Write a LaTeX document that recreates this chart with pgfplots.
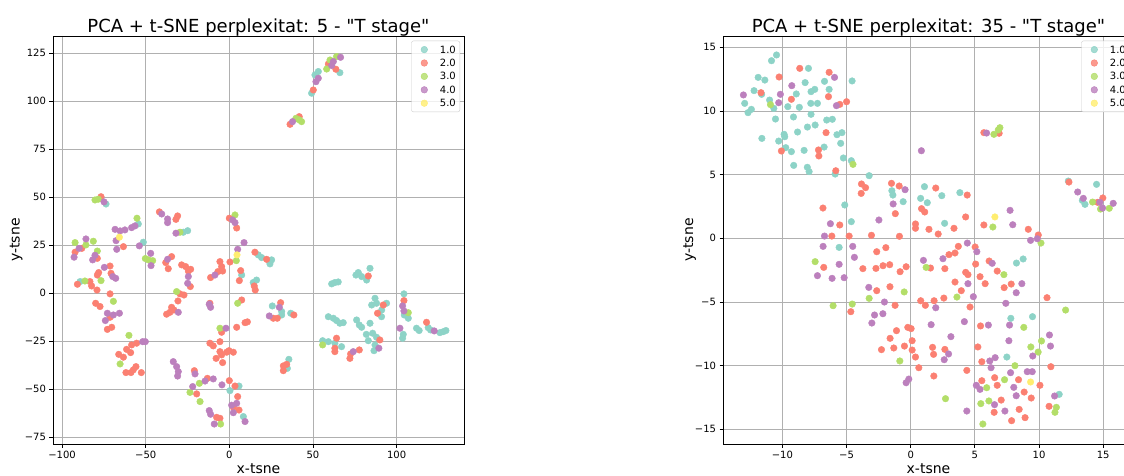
\documentclass[border=0pt]{standalone}
\usepackage{fontspec}
\setmainfont{DejaVu Sans}[Ligatures=TeXOff]
\usepackage{pgfplots}
\usepackage{pgfplotstable}
\pgfplotsset{compat=1.18}

\definecolor{c1}{HTML}{8DD3C7}
\definecolor{c2}{HTML}{FB8072}
\definecolor{c3}{HTML}{B3DE69}
\definecolor{c4}{HTML}{BC80BD}
\definecolor{c5}{HTML}{FFED6F}
\definecolor{gridc}{HTML}{B0B0B0}
\definecolor{legc}{HTML}{CCCCCC}

% ---- perplexity 5 ----
\pgfplotstableread{
x y
53.2 115.5
51.2 113.7
66.1 114.9
49.2 104.2
-73.7 46.5
-54.4 36.1
-51.4 26.6
-89.2 6.1
-27.5 31.8
-24.9 32.6
7.4 9.5
0.4 -50.7
5.8 -48.3
8.4 -64.2
17.3 20.0
19.3 18.6
25.3 17.4
24.3 15.3
14.3 5.6
16.3 6.9
25.7 -6.6
31.3 -9.5
31.3 -11.3
36.7 -10.4
35.6 -34.4
34.7 -39.1
61.2 4.9
63.1 5.6
65.1 5.9
75.7 9.5
77.1 10.8
79.1 8.7
82.1 6.9
84.1 13.0
59.2 -12.2
62.2 -13.0
64.1 -14.2
66.1 -15.6
68.1 -15.3
76.1 -13.9
77.7 -16.5
79.1 -17.7
84.1 -15.6
87.1 -2.6
85.1 -6.1
88.0 -5.2
94.0 -5.2
91.1 -8.7
91.0 -12.2
81.9 -21.4
85.7 -20.8
88.0 -22.9
83.1 -24.7
87.1 -26.9
86.5 -29.9
55.8 -24.7
59.2 -25.2
63.1 -26.0
67.1 -27.8
104.4 -0.3
104.6 -11.3
107.0 -13.0
104.0 -21.4
103.6 -23.4
111.9 -18.2
113.5 -19.4
118.9 -17.9
120.3 -19.1
125.9 -20.5
127.9 -20.0
129.5 -19.4
}\Lone
\pgfplotstableread{
x y
59.2 119.4
63.7 116.7
50.2 105.9
36.3 88.0
41.8 92.0
-76.7 50.3
-63.3 24.3
-88.2 23.4
-92.2 21.4
-78.9 18.2
-78.1 10.8
-78.9 9.5
-71.3 14.2
-70.7 10.4
-90.8 4.7
-83.3 6.1
-82.3 3.8
-79.1 1.7
-71.3 -0.3
-79.9 -5.2
-77.3 -6.9
-71.3 -12.5
-72.9 -18.8
-70.3 -17.7
-55.4 -26.0
-58.4 -26.9
-61.4 -29.2
-59.0 -30.9
-66.1 -31.8
-63.3 -33.3
-61.8 -41.3
-58.8 -41.3
-55.8 -38.2
-57.4 -39.9
-52.6 -41.3
-41.8 42.4
-30.9 40.3
-31.9 38.5
-34.5 19.1
-38.0 16.0
-36.5 12.8
-28.5 14.8
-26.1 13.9
-23.1 12.5
-24.5 11.6
-23.3 3.5
-29.5 -0.3
-27.1 -0.9
-30.7 -4.0
-34.5 -7.3
-37.5 -10.9
-35.5 -9.9
-33.1 -8.7
-11.6 -5.2
-11.2 8.2
-6.8 11.3
-4.6 13.9
-5.6 16.5
-4.0 11.6
-4.6 -20.3
-11.6 -26.0
-9.6 -27.4
-5.6 -25.2
-5.6 -30.4
-7.9 -33.9
-4.6 -32.1
-1.6 -30.7
-0.2 -29.9
2.4 -30.7
-4.0 -36.1
-20.9 -40.3
-19.5 -52.4
-13.1 -44.3
0.0 -45.5
3.4 -48.3
5.0 -53.8
2.4 -59.4
5.8 -60.8
-7.6 -64.6
-5.6 -65.1
0.0 39.1
4.4 34.0
0.4 16.3
6.8 11.8
6.0 6.6
7.4 -3.5
4.4 -17.7
9.4 -15.3
10.8 -14.9
15.3 21.4
22.3 17.7
14.9 3.8
15.5 1.7
26.3 -13.0
28.7 -13.0
30.7 -4.9
38.6 -11.3
34.3 -37.0
32.3 -37.8
32.3 -40.3
83.1 9.0
92.0 -6.1
88.6 -10.4
90.0 -24.3
64.1 -23.4
63.1 -28.6
63.1 -30.4
72.5 -31.6
77.7 -29.5
72.1 -33.9
104.4 -3.8
117.9 -15.1
}\Ltwo
\pgfplotstableread{
x y
64.1 123.3
60.2 121.5
58.2 116.8
39.8 91.1
43.2 89.4
41.8 90.3
-80.3 48.6
-78.3 49.0
-55.2 39.1
-92.2 26.4
-81.3 27.1
-85.7 25.2
-78.9 22.0
-86.3 6.4
-76.7 6.6
-69.3 -4.2
-50.2 18.1
-48.4 17.4
-45.8 17.0
-60.0 -21.9
-65.3 -36.8
-29.5 31.8
-31.5 0.9
-5.6 -18.2
-23.5 -51.6
-17.9 -46.9
-17.5 -56.4
-5.2 -68.1
3.4 40.8
4.2 17.0
5.0 -5.2
55.8 -26.9
107.0 -10.1
}\Lthree
\pgfplotstableread{
x y
66.5 122.9
62.2 120.7
61.2 118.6
53.2 112.0
51.8 110.2
37.8 89.4
-74.9 47.6
-58.4 34.2
-56.4 35.1
-62.4 33.0
-68.3 33.3
-65.3 32.5
-67.7 27.4
-67.3 22.9
-53.8 24.7
-85.7 28.3
-89.8 23.4
-92.8 18.8
-80.3 19.8
-81.7 17.4
-74.7 13.5
-69.7 8.7
-67.9 7.8
-72.9 -10.4
-69.3 -11.3
-65.7 -10.4
-74.1 -14.2
-47.0 20.8
-46.8 14.4
-51.8 -25.2
-50.2 -25.2
-40.4 41.3
-36.9 38.7
-36.9 36.8
-31.9 31.3
-36.9 17.7
-24.5 8.7
-24.9 5.2
-30.5 -9.9
-12.0 -5.7
-11.2 -7.3
-8.6 9.5
-2.0 -18.2
-33.5 -35.6
-31.5 -38.2
-30.5 -40.8
-30.9 -43.1
-20.5 -42.0
-21.9 -48.6
-14.5 -45.7
-9.6 -44.6
-4.4 -47.7
4.4 -57.3
1.4 -58.3
2.4 -62.2
9.4 -66.8
-12.0 -61.1
-11.2 -63.0
-9.0 -68.1
2.0 38.2
3.4 36.8
8.8 26.4
5.0 22.9
23.9 -11.8
29.9 -7.3
89.4 -28.6
74.1 -30.4
103.6 -6.6
104.4 -9.2
102.0 -18.2
122.5 -19.6
}\Lfour
\pgfplotstableread{
x y
-65.7 29.2
4.6 20.0
}\Lfive

% ---- perplexity 35 ----
\pgfplotstableread{
x y
-10.46 14.40
-10.85 13.95
-11.89 12.64
-11.37 12.43
-7.97 13.35
-4.57 12.36
-6.72 12.33
-8.23 12.23
-6.36 11.70
-7.48 11.70
-7.77 11.52
-8.92 11.34
-12.21 11.60
-11.62 11.31
-11.00 10.86
-12.94 10.60
-12.42 10.13
-12.68 9.87
-10.67 10.21
-9.58 10.34
-8.68 10.29
-7.79 10.60
-7.27 10.60
-9.14 9.53
-7.77 9.74
-10.54 9.37
-6.55 9.29
-6.11 9.35
-7.45 8.90
-8.05 8.74
-5.75 8.14
-5.36 8.30
-8.82 8.35
-9.87 8.17
-9.82 7.98
-11.60 7.85
-10.29 7.64
-5.46 7.46
-9.74 7.12
-6.75 7.17
-8.31 6.91
-9.30 6.81
-5.25 6.31
-4.63 6.10
-9.12 5.73
-8.06 5.58
-7.92 5.24
-5.89 5.05
-3.24 4.92
-1.39 3.40
-1.47 3.74
-0.59 2.88
1.07 4.06
2.42 3.35
3.83 3.59
0.77 3.14
1.29 2.80
-5.14 2.62
-4.63 1.31
2.64 1.18
-5.58 -0.71
8.24 -1.94
8.76 -1.62
7.80 -6.28
9.49 -6.15
7.49 -9.32
11.57 -12.25
12.28 4.50
14.48 4.24
13.37 2.98
13.58 2.67
}\Rone
\pgfplotstableread{
x y
-10.26 12.67
-8.65 13.35
-6.36 13.04
-11.67 11.44
-6.41 11.13
-9.30 10.92
-5.53 10.52
-5.00 10.73
-6.60 8.30
-10.08 6.86
-7.19 6.94
-7.16 6.47
-5.84 5.31
-3.84 4.27
-3.52 3.98
-3.86 3.53
-1.50 4.32
-0.90 4.11
1.95 3.95
4.40 3.40
0.84 2.33
1.09 2.07
-1.20 1.94
-6.84 2.38
-5.53 1.05
0.37 1.13
0.37 0.79
1.42 0.71
2.14 0.34
3.37 0.79
4.28 1.68
-6.15 0.18
-4.80 0.18
-3.06 0.24
-0.88 0.16
-1.94 -0.73
-2.65 -1.05
-6.78 -2.28
-3.73 -2.38
-2.71 -2.36
-2.16 -2.15
-1.64 -2.07
-0.36 -2.23
-0.83 -2.62
-1.62 -3.80
-2.65 -4.11
-4.67 -5.76
-1.22 -5.26
-1.11 -7.25
-1.61 -7.85
-1.32 -8.61
-2.28 -8.74
-0.23 -6.99
0.03 -7.09
0.11 -8.04
-0.49 -8.46
0.11 -8.77
0.37 -9.32
0.63 -10.16
1.54 -2.33
0.78 -4.90
1.14 -5.26
1.82 -4.90
1.70 -8.56
1.78 -9.11
1.80 -10.81
2.58 -4.69
2.66 -2.38
2.98 -1.28
3.45 -1.15
3.71 -0.63
3.94 -4.11
3.45 -3.43
4.28 -2.67
4.46 -2.85
4.62 -5.39
5.40 -3.01
5.06 -2.02
5.02 -0.68
5.70 1.05
6.11 -1.78
5.80 -3.56
6.74 -2.57
7.28 -3.87
7.83 -3.59
9.16 0.71
9.94 0.26
10.62 -4.66
5.44 -6.88
2.66 -8.72
5.23 -8.53
5.54 -9.69
4.37 -10.37
10.92 -10.08
6.54 -10.94
8.40 -11.10
5.54 -11.18
10.07 -11.54
6.74 -11.54
8.84 -12.07
9.39 -12.54
7.05 -12.70
6.50 -13.66
8.45 -13.43
8.91 -14.08
7.86 -14.32
10.78 -13.19
5.70 8.30
6.89 8.25
12.33 4.42
14.56 2.83
14.97 3.17
}\Rtwo
\pgfplotstableread{
x y
-10.93 10.50
-4.50 5.81
-7.45 -1.83
-3.24 -4.71
-0.51 -4.21
-6.05 -5.29
-4.56 -5.16
-0.85 -9.63
1.20 -2.28
3.60 -4.61
6.40 0.89
7.26 -2.85
10.15 -0.37
12.07 -5.63
8.81 -6.99
10.19 -8.06
9.36 -8.53
9.93 -8.93
8.12 -10.00
7.31 -11.10
5.92 -11.73
2.71 -12.59
6.09 -12.77
5.46 -12.98
5.62 -14.58
11.35 -13.27
11.24 -13.66
6.48 8.17
6.82 8.51
6.95 8.69
14.17 2.85
14.79 2.30
15.47 2.36
}\Rthree
\pgfplotstableread{
x y
-5.94 12.64
-9.27 11.99
-13.04 11.26
-10.16 11.31
-10.29 10.65
-5.79 10.42
-0.44 3.82
-1.37 2.70
-2.48 1.44
-6.26 1.15
-6.72 0.18
-6.83 -0.63
-4.52 -0.63
-4.39 -1.49
-5.58 -2.04
-7.27 -2.93
-6.13 -3.14
-5.19 -3.09
-3.27 -3.85
-2.05 -5.00
-2.82 -6.02
-2.17 -5.92
-3.03 -6.65
-0.15 -11.05
-0.36 -11.34
0.99 -1.73
1.95 -5.45
1.59 -6.78
2.51 -1.60
4.41 -0.37
4.46 -3.56
4.88 -4.58
5.15 -1.05
6.35 -1.96
7.41 -5.10
8.22 -4.27
8.66 -3.56
7.74 2.20
7.95 1.07
9.34 -0.16
9.86 -0.03
7.70 -6.81
6.05 -6.81
4.18 -6.54
3.13 -7.72
2.95 -9.08
2.61 -9.53
7.65 -8.04
10.81 -7.59
10.89 -8.46
9.51 -9.24
6.16 -9.63
6.58 -9.37
6.26 -10.16
7.78 -10.55
9.08 -10.47
9.47 -10.47
5.11 -11.54
5.40 -11.86
8.03 -11.70
8.22 -12.36
6.53 -13.06
4.37 -13.56
7.34 -13.56
11.21 -12.38
0.83 6.88
5.91 8.27
13.01 3.64
13.45 3.14
14.74 2.83
14.95 2.38
15.78 2.75
}\Rfour
\pgfplotstableread{
x y
6.56 1.68
9.34 -11.28
}\Rfive

\pgfplotsset{
  dot/.style={only marks, mark=*, mark size=3.3pt, color=#1,
    mark options={draw=none, fill=#1},
    legend image code/.code={\path (0pt,0pt) (24pt,0pt); \fill[#1] (12.6pt,0pt) circle (3.3pt);}},
  tsne/.style={
    scale only axis, width=411pt, height=408pt,
    axis line style={black, line width=0.8pt},
    grid=major, grid style={gridc, line width=0.8pt},
    tick align=outside, major tick length=3.5pt,
    tick style={black, line width=0.8pt},
    xtick pos=bottom, ytick pos=left,
    ticklabel style={font=\fontsize{10}{12}\selectfont},
    /pgf/number format/assume math mode=true,
    every axis title/.style={at={(axis description cs:0.5,1)}, anchor=base, yshift=4pt,
      font=\fontsize{18}{21}\selectfont},
    every axis x label/.style={at={(axis description cs:0.5,0)}, anchor=base, yshift=-29.5pt,
      font=\fontsize{14}{16}\selectfont},
    xlabel={x-tsne}, ylabel={y-tsne},
    legend cell align=left,
    legend style={at={(axis description cs:1,1)}, anchor=north east, xshift=-4pt, yshift=-4.7pt,
      draw=legc, fill=white, fill opacity=0.8, text opacity=1, rounded corners=2pt,
      font=\fontsize{10}{12}\selectfont, inner xsep=0pt, inner ysep=2pt,
      column sep=0pt, row sep=0pt,
      nodes={inner xsep=4pt, inner ysep=2.2pt, text height=8pt, text depth=1pt}},
  },
}

\begin{document}
\begin{tikzpicture}
\begin{axis}[tsne,
    at={(53pt,31pt)}, anchor=south west,
    title={PCA + t-SNE perplexitat: 5 - "T stage"},
    every axis y label/.style={at={(axis description cs:-0.0815,0.5)}, rotate=90, anchor=base,
      font=\fontsize{14}{16}\selectfont},
    xmin=-105.4, xmax=140.3, ymin=-78.5, ymax=134,
    xtick={-100,-50,0,50,100},
    xticklabels={−100,−50,0,50,100},
    ytick={-75,-50,-25,0,25,50,75,100,125},
    yticklabels={−75,−50,−25,0,25,50,75,100,125},
]
\addplot[dot=c1] table {\Lone};
\addlegendentry{1.0}
\addplot[dot=c2] table {\Ltwo};
\addlegendentry{2.0}
\addplot[dot=c3] table {\Lthree};
\addlegendentry{3.0}
\addplot[dot=c4] table {\Lfour};
\addlegendentry{4.0}
\addplot[dot=c5] table {\Lfive};
\addlegendentry{5.0}
\end{axis}

\begin{axis}[tsne,
    at={(723pt,31pt)}, anchor=south west,
    title={PCA + t-SNE perplexitat: 35 - "T stage"},
    every axis y label/.style={at={(axis description cs:-0.073,0.5)}, rotate=90, anchor=base,
      font=\fontsize{14}{16}\selectfont},
    xmin=-14.63, xmax=17.4, ymin=-16.15, ymax=15.89,
    xtick={-10,-5,0,5,10,15},
    xticklabels={−10,−5,0,5,10,15},
    ytick={-15,-10,-5,0,5,10,15},
    yticklabels={−15,−10,−5,0,5,10,15},
]
\addplot[dot=c1] table {\Rone};
\addlegendentry{1.0}
\addplot[dot=c2] table {\Rtwo};
\addlegendentry{2.0}
\addplot[dot=c3] table {\Rthree};
\addlegendentry{3.0}
\addplot[dot=c4] table {\Rfour};
\addlegendentry{4.0}
\addplot[dot=c5] table {\Rfive};
\addlegendentry{5.0}
\end{axis}
\pgfresetboundingbox
\useasboundingbox (0pt,0pt) rectangle (1124pt,475pt);
\end{tikzpicture}
\end{document}
